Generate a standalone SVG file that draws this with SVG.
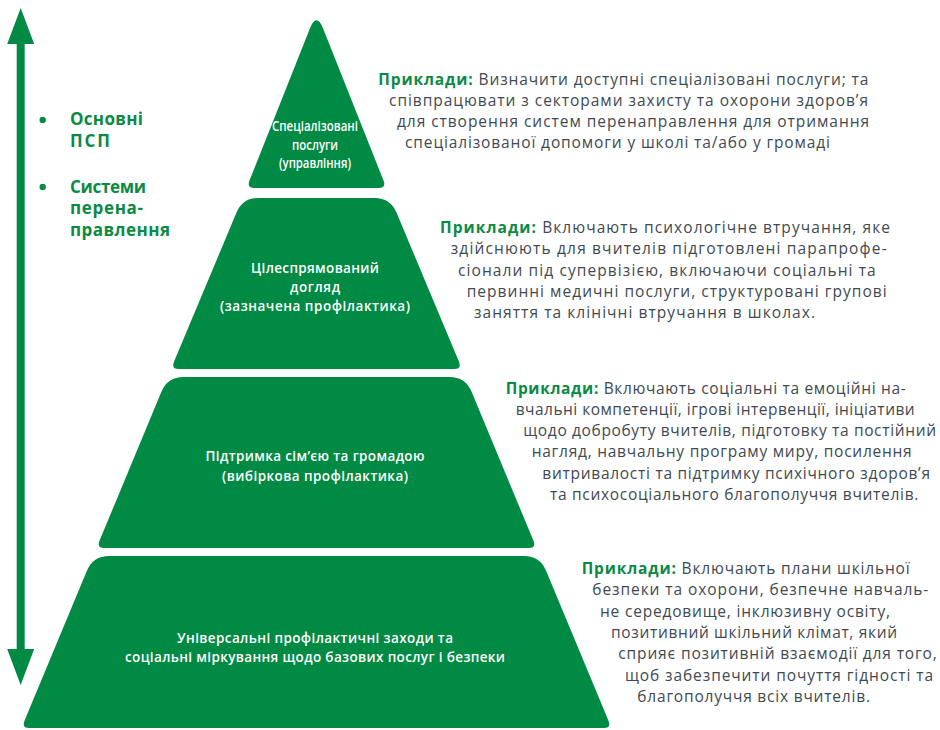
<svg xmlns="http://www.w3.org/2000/svg" width="940" height="730" viewBox="0 0 940 730">
  <style>
    .tier { fill: #008a44; }
    .lbl { font-family: "Open Sans", "Noto Sans", "DejaVu Sans", sans-serif; font-size: 13.5px; font-weight: 600; fill: #ffffff; text-anchor: middle; }
    .lbl-sm { font-family: "Open Sans", "Noto Sans", sans-serif; font-size: 14px; font-weight: 600; fill: #ffffff; text-anchor: middle; }
    .desc { font-family: "Open Sans", "Noto Sans", "DejaVu Sans", sans-serif; font-size: 15.5px; font-weight: 400; fill: #414a52; }
    .key { font-weight: 700; fill: #0a8a45; }
    .legend { font-family: "Open Sans", "Noto Sans", sans-serif; font-size: 17px; font-weight: 700; fill: #0a8a45; }
    .axis { stroke: #008a44; stroke-width: 8; fill: none; }
  </style>
  <defs>
    <marker id="head" viewBox="0 0 36 27" refX="0" refY="13.5" markerWidth="36" markerHeight="27" markerUnits="userSpaceOnUse" orient="auto-start-reverse">
      <path d="M0,0 L36,13.5 L0,27 Z" fill="#008a44"/>
    </marker>
  </defs>

  <rect width="940" height="730" fill="#ffffff"/>

  <!-- vertical double-headed arrow -->
  <g id="connectors">
    <line class="axis" x1="20.7" y1="44" x2="20.7" y2="649" marker-start="url(#head)" marker-end="url(#head)"/>
  </g>

  <!-- legend bullets -->
  <g id="legend">
    <circle cx="42.7" cy="120" r="3.2" fill="#0a8a45"/>
    <text class="legend" x="70" y="125" textLength="73">Основні</text>
    <text class="legend" x="70" y="147" textLength="40">ПСП</text>
    <circle cx="42.7" cy="187" r="3.2" fill="#0a8a45"/>
    <text class="legend" x="70" y="192.5" textLength="76">Системи</text>
    <text class="legend" x="70" y="214" textLength="73">перена-</text>
    <text class="legend" x="70" y="235.5" textLength="100">правлення</text>
  </g>

  <!-- tier 1: specialised services (narrow label set) -->
  <g id="tier-specialised">
    <path class="tier" d="M309.8,28.7 Q316.5,12 323.2,28.7 L383.5,180.6 Q386.5,188 378.5,188 L254.5,188 Q246.5,188 249.5,180.6 Z"/>
    <text class="lbl-sm" x="315" y="131" textLength="86" lengthAdjust="spacingAndGlyphs">Спеціалізовані</text>
    <text class="lbl-sm" x="315" y="149.5" textLength="46" lengthAdjust="spacingAndGlyphs">послуги</text>
    <text class="lbl-sm" x="315" y="168" textLength="72" lengthAdjust="spacingAndGlyphs">(управління)</text>
    <text class="desc" x="378.3" y="84.5" textLength="490"><tspan class="key">Приклади:</tspan> Визначити доступні спеціалізовані послуги; та</text>
    <text class="desc" x="389" y="105.8" textLength="479">співпрацювати з секторами захисту та охорони здоров’я</text>
    <text class="desc" x="397" y="127.1" textLength="472">для створення систем перенаправлення для отримання</text>
    <text class="desc" x="405" y="148.4" textLength="425">спеціалізованої допомоги у школі та/або у громаді</text>
  </g>

  <!-- tier 2: focused care -->
  <g id="tier-focused">
    <path class="tier" d="M258.5,198 L374.5,198 Q390.5,198 396.6,212.8 L458.9,361.6 Q462,369 454,369 L179,369 Q171,369 174.1,361.6 L236.4,212.8 Q242.5,198 258.5,198 Z"/>
    <text class="lbl" x="315" y="272.5" textLength="128">Цілеспрямований</text>
    <text class="lbl" x="315" y="292" textLength="50">догляд</text>
    <text class="lbl" x="315" y="311" textLength="190">(зазначена профілактика)</text>
    <text class="desc" x="440" y="233" textLength="450"><tspan class="key">Приклади:</tspan> Включають психологічне втручання, яке</text>
    <text class="desc" x="450.7" y="254.4" textLength="436">здійснюють для вчителів підготовлені парапрофе-</text>
    <text class="desc" x="458" y="275.7" textLength="417.7">сіонали під супервізією, включаючи соціальні та</text>
    <text class="desc" x="466.7" y="297" textLength="420">первинні медичні послуги, структуровані групові</text>
    <text class="desc" x="474" y="318.4" textLength="341">заняття та клінічні втручання в школах.</text>
  </g>

  <!-- tier 3: family and community support -->
  <g id="tier-selective">
    <path class="tier" d="M183.5,377 L449.5,377 Q465.5,377 471.6,391.8 L533.4,540.6 Q536.5,548 528.5,548 L104.5,548 Q96.5,548 99.6,540.6 L161.4,391.8 Q167.5,377 183.5,377 Z"/>
    <text class="lbl" x="315" y="461" textLength="219">Підтримка сім’єю та громадою</text>
    <text class="lbl" x="315" y="481" textLength="186">(вибіркова профілактика)</text>
    <text class="desc" x="505.7" y="393.5" textLength="400"><tspan class="key">Приклади:</tspan> Включають соціальні та емоційні на-</text>
    <text class="desc" x="515.7" y="414.8" textLength="399">вчальні компетенції, ігрові інтервенції, ініціативи</text>
    <text class="desc" x="523.3" y="436.1" textLength="412.7">щодо добробуту вчителів, підготовку та постійний</text>
    <text class="desc" x="531.7" y="457.4" textLength="380">нагляд, навчальну програму миру, посилення</text>
    <text class="desc" x="542.3" y="478.7" textLength="387.7">витривалості та підтримку психічного здоров’я</text>
    <text class="desc" x="550" y="500" textLength="368.3">та психосоціального благополуччя вчителів.</text>
  </g>

  <!-- tier 4: universal measures -->
  <g id="tier-universal">
    <path class="tier" d="M109,556 L524,556 Q540,556 546.1,570.8 L608.4,720.6 Q611.5,728 603.5,728 L29.5,728 Q21.5,728 24.6,720.6 L86.9,570.8 Q93,556 109,556 Z"/>
    <text class="lbl" x="315" y="643" textLength="276">Універсальні профілактичні заходи та</text>
    <text class="lbl" x="315" y="662" textLength="380">соціальні міркування щодо базових послуг і безпеки</text>
    <text class="desc" x="581.7" y="574" textLength="328"><tspan class="key">Приклади:</tspan> Включають плани шкільної</text>
    <text class="desc" x="592.3" y="595.3" textLength="336">безпеки та охорони, безпечне навчаль-</text>
    <text class="desc" x="600" y="616.6" textLength="290">не середовище, інклюзивну освіту,</text>
    <text class="desc" x="611" y="637.9" textLength="286">позитивний шкільний клімат, який</text>
    <text class="desc" x="618.3" y="659.2" textLength="318.4">сприяє позитивній взаємодії для того,</text>
    <text class="desc" x="625" y="680.5" textLength="308">щоб забезпечити почуття гідності та</text>
    <text class="desc" x="637.3" y="701.8" textLength="232.7">благополуччя всіх вчителів.</text>
  </g>
</svg>
